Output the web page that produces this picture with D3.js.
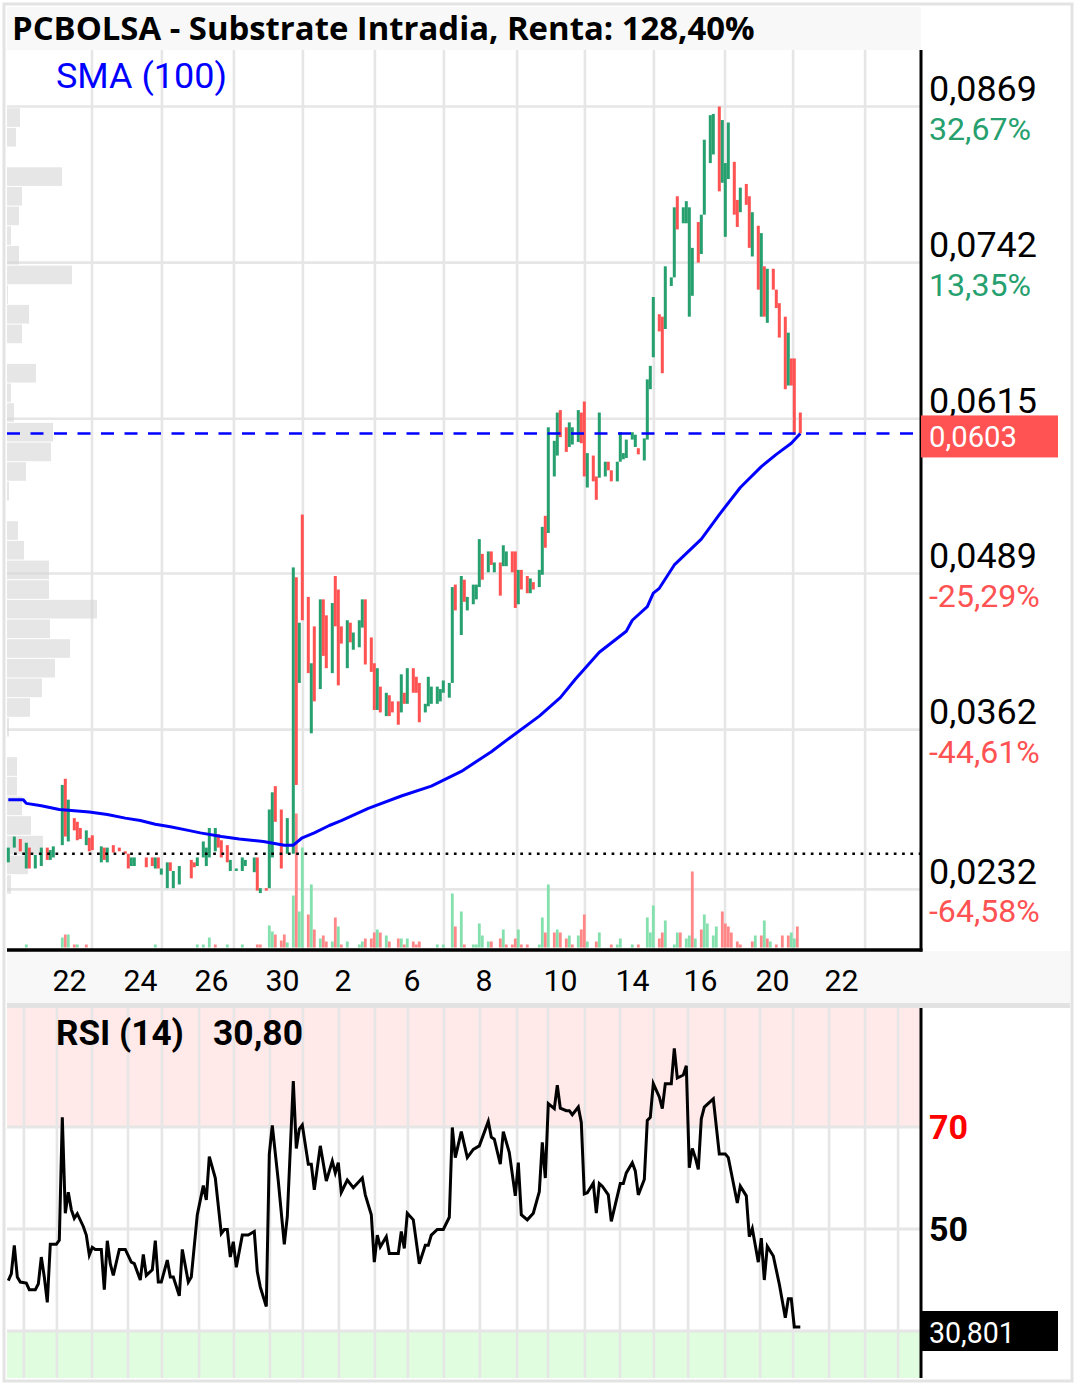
<!DOCTYPE html>
<html><head><meta charset="utf-8">
<script src="https://cdn.jsdelivr.net/npm/d3@7/dist/d3.min.js"></script>
<style>body{margin:0;background:#fff}svg{display:block}text{font-family:Roboto,"Noto Sans",sans-serif}</style>
</head><body><svg id="c" width="1076" height="1385"></svg>
<script>
// ---------------- DATA ----------------
const title = "PCBOLSA - Substrate Intradia, Renta: 128,40%";
const smaLabel = "SMA (100)";
const rsiLabel = "RSI (14)";
const rsiLast = "30,80";
const rsiBoxText = "30,801";
const lastPrice = 0.0603;
const refPrice = 0.0261;

const priceTicks = [0.0869, 0.0742, 0.0615, 0.0489, 0.0362, 0.0232];
const pctLabels = ["32,67%", "13,35%", "", "-25,29%", "-44,61%", "-64,58%"];
const rsiTicks = [70, 50, 30];

// trading-day starts, in bar units
const dayStarts = [5.2,16.2,27.9,39.9,51.2,63.6,75.2,87.2,98.2,110.2,122.2,133.2,145.2,157.2,169.6,179.9,192.2,203.9,215.2,226.6,238.9,250.6,261.6,273.6,285.6,296.6];
const majorDays = [27.9,51.2,75.2,98.2,122.2,145.2,169.6,192.2,215.2,238.9,261.6,285.6];
const labelDays = [16.2,39.9,63.6,87.2,110.2,133.2,157.2,179.9,203.9,226.6,250.6,273.6];
const dayLabels = ["22","24","26","30","2","6","8","10","14","16","20","22"];

const candleBar = [
0,2,4,6,7,9,11,13,14,15,
18,19,20,22,23,24,26,27,28,31,
32,33,35,37,39,40,41,42,46,48,
49,50,51,53,54,55,57,61,62,63,
65,66,67,69,70,71,73,74,76,78,
79,82,83,84,86,87,88,89,91,93,
95,96,97,98,100,101,102,104,105,106,
108,109,110,111,113,114,115,117,118,119,
121,122,123,124,126,127,128,130,131,132,
133,135,136,137,139,140,141,143,144,145,
147,148,149,151,152,153,155,156,157,158,
160,161,162,164,165,166,168,169,170,171,
173,174,175,177,178,179,180,182,183,184,
186,187,188,190,191,192,193,195,196,197,
199,200,201,203,204,205,206,208,209,210,
212,213,214,215,217,218,219,221,222,223,
225,226,227,228,230,231,232,234,235,237,
238,239,240,242,243,244,246,247,248,250,
251,252,253,255,256,257,259,260,261,262,264];
const candleOpen = [
.0254,.0266,.0273,.0249,.0266,.0249,.0251,.0266,.0256,.0258,
.0268,.0322,.0271,.0290,.0287,.0282,.0268,.0274,.0276,.0254,
.0266,.0254,.0268,.0266,.0263,.0261,.0251,.0251,.0258,.0258,
.0249,.0258,.0244,.0233,.0254,.0233,.0236,.0256,.0254,.0251,
.0258,.0251,.0258,.0263,.0277,.0272,.0268,.0247,.0247,.0247,
.0251,.0246,.0258,.0229,.0233,.0233,.0258,.0316,.0297,.0261,
.0261,.0486,.0400,.0537,.0470,.0359,.0446,.0395,.0468,.0455,
.0408,.0487,.0476,.0446,.0412,.0449,.0427,.0429,.0445,.0468,
.0437,.0416,.0378,.0397,.0373,.0390,.0385,.0385,.0376,.0392,
.0383,.0412,.0405,.0400,.0376,.0381,.0383,.0383,.0385,.0392,
.0388,.0400,.0480,.0439,.0484,.0459,.0464,.0468,.0478,.0505,
.0490,.0507,.0490,.0498,.0495,.0495,.0507,.0507,.0464,.0492,
.0487,.0473,.0482,.0478,.0488,.0536,.0522,.0568,.0585,.0622,
.0608,.0592,.0594,.0596,.0620,.0629,.0559,.0585,.0568,.0567,
.0568,.0580,.0573,.0564,.0580,.0582,.0583,.0598,.0592,.0591,
.0581,.0598,.0639,.0665,.0700,.0698,.0688,.0723,.0730,.0796,
.0774,.0774,.0698,.0715,.0775,.0749,.0781,.0823,.0830,.0869,
.0807,.0763,.0810,.0824,.0793,.0783,.0806,.0796,.0747,.0772,
.0698,.0739,.0693,.0737,.0720,.0709,.0698,.0642,.0664,.0664,.0620];
const candleClose = [
.0266,.0275,.0263,.0270,.0249,.0260,.0266,.0256,.0264,.0267,
.0317,.0275,.0305,.0280,.0272,.0273,.0280,.0263,.0264,.0267,
.0256,.0266,.0262,.0263,.0261,.0249,.0258,.0258,.0250,.0251,
.0258,.0249,.0249,.0254,.0247,.0247,.0251,.0241,.0250,.0258,
.0271,.0266,.0282,.0282,.0266,.0258,.0254,.0256,.0249,.0258,
.0256,.0258,.0231,.0233,.0231,.0297,.0311,.0287,.0249,.0290,
.0494,.0317,.0449,.0451,.0408,.0416,.0385,.0468,.0422,.0412,
.0465,.0446,.0398,.0432,.0451,.0433,.0441,.0451,.0468,.0415,
.0409,.0378,.0412,.0376,.0392,.0373,.0376,.0366,.0407,.0383,
.0412,.0392,.0392,.0368,.0383,.0405,.0397,.0397,.0395,.0402,
.0400,.0478,.0459,.0487,.0466,.0470,.0480,.0480,.0517,.0484,
.0507,.0496,.0498,.0471,.0512,.0507,.0490,.0461,.0492,.0476,
.0473,.0485,.0476,.0492,.0527,.0510,.0608,.0597,.0620,.0600,
.0588,.0612,.0608,.0622,.0595,.0568,.0587,.0564,.0549,.0620,
.0580,.0573,.0564,.0580,.0604,.0587,.0598,.0604,.0602,.0586,
.0599,.0647,.0658,.0714,.0686,.0652,.0739,.0730,.0787,.0769,
.0787,.0792,.0787,.0754,.0742,.0781,.0842,.0862,.0863,.0800,
.0858,.0823,.0856,.0781,.0771,.0803,.0789,.0754,.0783,.0720,
.0766,.0698,.0737,.0720,.0705,.0681,.0639,.0685,.0642,.0602,.0603];

// volume (thousand shares)
const volBar = [
6,18,19,20,22,23,26,49,63,65,
67,69,73,78,83,84,87,88,89,91,
92,93,95,96,97,98,100,101,102,104,
105,106,108,109,110,111,113,117,118,119,
121,122,123,124,126,127,130,131,132,133,
135,136,137,143,145,148,149,151,152,155,
156,157,158,160,161,164,165,166,168,169,
170,171,173,177,178,179,180,182,183,184,
186,187,188,190,191,192,193,196,197,201,
203,204,208,210,213,214,215,217,218,219,
222,223,224,226,227,228,229,231,232,233,
235,236,238,239,240,241,243,244,248,249,
251,252,253,254,256,258,260,261,262,263];
const volValue = [
15,50,65,65,15,15,15,15,15,15,
50,15,15,15,15,15,110,80,65,35,
65,25,260,670,180,500,165,315,90,45,
60,30,30,150,105,15,30,15,30,45,
45,75,90,75,60,30,45,45,15,45,
30,15,30,15,15,270,105,180,15,15,
15,120,60,30,30,45,90,15,15,45,
90,15,15,15,150,75,315,75,90,75,
45,60,15,60,90,165,30,30,75,15,
15,45,15,15,150,75,210,45,75,135,
15,75,75,45,60,380,45,90,165,120,
60,105,180,120,105,75,30,15,30,60,
60,135,45,30,15,60,60,75,45,105];
const volUp = [
1,1,0,1,0,1,0,1,1,1,
1,0,1,1,0,0,1,1,0,0,
0,1,1,0,1,1,0,1,0,1,
0,0,1,0,1,0,1,1,1,0,
0,0,1,0,1,0,0,1,0,1,
0,0,0,1,1,1,0,1,0,1,
1,1,1,1,0,0,1,0,0,0,
1,0,0,1,1,0,1,0,1,0,
0,1,0,1,0,0,1,0,1,0,
1,1,1,0,1,1,1,0,0,1,
1,1,0,1,1,0,1,0,1,1,
1,1,0,0,0,0,0,0,0,1,
0,1,0,1,0,0,0,1,1,0];

// SMA(100)
const smaBar = [0,5,6,11,17,27,33,39,44,49,54,60,64,71,77,85,92,95,98,102,107,111,120,131,141,151,161,167,177,184,189,197,206,208,213,215,217,222,231,237,244,251,256,261,264];
const smaVal = [.0305,.0305,.0302,.0300,.0297,.0295,.0293,.0290,.0288,.0285,.0283,.0280,.0278,.0275,.0273,.0271,.0268,.0268,.0274,.0278,.0284,.0288,.0298,.0308,.0316,.0328,.0344,.0355,.0373,.0388,.0403,.0425,.0442,.0451,.0462,.0473,.0477,.0496,.0517,.0537,.0559,.0576,.0586,.0595,.0603];

// volume-at-price profile (thousand shares), bins of 0.0016
const profTop = [.0868,.0852,.0836,.0820,.0804,.0788,.0772,.0756,.0740,.0724,.0708,.0692,.0676,.0660,.0644,.0628,.0612,.0596,.0580,.0564,.0548,.0532,.0516,.0500,.0484,.0468,.0452,.0436,.0420,.0404,.0388,.0372,.0356,.0340,.0324,.0308,.0292,.0276,.0260,.0244];
const profVol = [260,180,0,1100,300,240,80,240,1300,20,440,300,0,580,80,140,920,880,380,40,0,220,340,840,840,1800,860,1260,960,700,460,40,0,200,200,300,480,720,420,80];
const profBin = 0.0016;

// RSI(14)
const rsiBar = [
0,1,2,3,4,6,7,9,10,11,
12,13,14,16,17,18,19,20,21,22,
23,25,26,27,28,29,31,32,33,34,
35,37,39,41,42,44,45,46,48,49,
50,51,53,54,55,57,58,60,61,63,
65,66,67,69,71,72,73,74,75,76,
78,80,82,83,84,86,87,88,90,92,
93,95,96,97,98,100,101,102,104,106,
108,109,110,111,113,115,118,119,121,122,
123,124,126,127,130,131,132,133,135,137,
139,140,141,143,145,147,148,149,151,153,
155,157,160,161,162,164,165,167,169,170,
171,173,175,177,178,179,180,182,183,184,
186,187,188,190,191,192,193,195,196,197,
198,200,201,204,205,206,208,209,210,212,
213,214,215,217,218,219,221,222,223,225,
226,227,228,229,230,231,232,235,237,239,
240,243,244,246,247,248,250,251,252,253,
255,257,259,260,261,262,264];
const rsiVal = [
39.9,41.2,46.8,40.6,39.6,39.4,38.1,38.1,39.2,44.5,
40.6,35.6,47.0,47.0,47.8,71.9,53.1,57.2,53.8,52.1,
53.0,50.5,48.8,44.9,46.4,46.0,46.0,38.1,47.7,43.2,
40.9,46.0,46.0,43.5,43.2,40.0,45.0,40.9,42.0,47.7,
39.6,39.6,43.9,40.6,40.6,36.9,46.0,39.6,40.6,52.8,
58.5,55.7,64.2,60.0,49.1,49.9,49.9,44.5,47.5,42.5,
48.8,48.8,49.5,41.6,38.6,34.8,64.7,70.3,59.4,47.0,
52.4,79.0,65.8,69.6,70.4,62.7,62.7,57.7,66.3,59.4,
63.3,61.0,63.0,57.2,59.6,58.1,60.0,56.7,52.8,43.5,
48.8,46.5,48.5,45.2,45.2,49.5,46.2,53.1,51.8,43.2,
46.8,46.8,48.8,49.9,49.9,52.3,69.9,64.0,69.1,64.0,
65.6,66.3,71.1,68.0,67.6,62.7,69.1,65.0,56.5,63.0,
52.8,51.8,53.1,57.3,67.0,60.0,74.6,73.6,78.2,73.7,
73.2,73.2,72.4,73.9,70.9,56.9,57.1,59.0,53.1,58.9,
58.4,56.7,51.5,58.9,58.9,61.0,63.0,61.4,56.7,59.7,
71.3,71.9,78.5,75.9,73.6,78.5,78.5,85.4,79.6,80.2,
82.0,62.0,65.8,64.0,61.7,71.6,73.9,75.5,64.7,64.7,
64.0,55.1,58.4,56.5,48.5,50.1,43.5,48.2,40.0,46.6,
44.7,39.2,32.6,36.3,36.3,30.8,30.8];

// ---------------- LAYOUT ----------------
const L = {left: 7, right: 921, top: 50, bottom: 949, rsiTop: 1008, rsiBottom: 1378};
const UP = "#26a06e", DOWN = "#ff5252", VUP = "#84e0ad", VDOWN = "#ff8787", GRID = "#e6e6e6";

const svg = d3.select("#c");
const x = d3.scaleLinear().domain([0, 264]).range([8.3, 800.3]);
const y = d3.scaleLinear().domain([0.01835, 0.0915]).range([L.bottom, L.top]);
const vh = d3.scaleLinear().domain([0, 1000]).range([0, 200]);
const ph = d3.scaleLinear().domain([0, 1800]).range([0, 90]);
const yr = d3.scaleLinear().domain([30, 70]).range([1331, 1127]);
const loc = d3.formatLocale({decimal: ",", thousands: ".", grouping: [3], currency: ["", "€"]});
const fmt4 = loc.format(".4f");

function fit(sel, w) {
  const cw = sel.node().getComputedTextLength();
  sel.attr("font-size", parseFloat(sel.attr("font-size")) * w / cw);
}

// backgrounds
svg.append("rect").attr("x", 4).attr("y", 4).attr("width", 1068).attr("height", 1377)
  .attr("fill", "#fff").attr("stroke", "#e3e3e3").attr("stroke-width", 3);
svg.append("rect").attr("x", 7).attr("y", 7).attr("width", L.right - 7).attr("height", 43).attr("fill", "#f8f8f8");
svg.append("rect").attr("x", 7).attr("y", 951).attr("width", 1063).attr("height", 52).attr("fill", "#f8f8f8");
svg.append("rect").attr("x", 7).attr("y", 1003).attr("width", 1063).attr("height", 5).attr("fill", "#e2e2e2");

// main grid
const g = svg.append("g");
g.selectAll(".hg").data(priceTicks).join("line")
  .attr("x1", L.left).attr("x2", L.right).attr("y1", d => y(d)).attr("y2", d => y(d))
  .attr("stroke", GRID).attr("stroke-width", 2.6);
g.selectAll(".vg").data(majorDays).join("line")
  .attr("x1", d => x(d)).attr("x2", d => x(d)).attr("y1", L.top).attr("y2", L.bottom)
  .attr("stroke", GRID).attr("stroke-width", 2.6);

// profile
g.selectAll(".pf").data(profTop).join("rect")
  .attr("x", L.left).attr("y", d => y(d) + 0.5)
  .attr("width", (d, i) => ph(profVol[i]))
  .attr("height", d => y(d - profBin) - y(d) - 1)
  .attr("fill", "#d6d6d6").attr("opacity", 0.6);

// volume
g.selectAll(".vb").data(volBar).join("rect")
  .attr("x", d => x(d) - 1.4).attr("width", 2.8)
  .attr("y", (d, i) => 947.5 - vh(volValue[i])).attr("height", (d, i) => vh(volValue[i]))
  .attr("fill", (d, i) => volUp[i] ? VUP : VDOWN);

// candles
g.selectAll(".cd").data(candleBar).join("rect")
  .attr("x", d => x(d) - 1.5).attr("width", 3)
  .attr("y", (d, i) => y(Math.max(candleOpen[i], candleClose[i])))
  .attr("height", (d, i) => Math.max(1.5, Math.abs(y(candleOpen[i]) - y(candleClose[i]))))
  .attr("fill", (d, i) => candleClose[i] >= candleOpen[i] ? UP : DOWN);

// SMA
g.append("path").datum(smaBar)
  .attr("d", d3.line().x(d => x(d)).y((d, i) => y(smaVal[i])))
  .attr("fill", "none").attr("stroke", "#0000ff").attr("stroke-width", 3).attr("stroke-linejoin", "round");

// reference & last price lines
g.append("line").attr("x1", 14).attr("x2", L.right).attr("y1", y(refPrice)).attr("y2", y(refPrice))
  .attr("stroke", "#000").attr("stroke-width", 2.7).attr("stroke-dasharray", "2.7,5.6");
g.append("line").attr("x1", L.left).attr("x2", L.right).attr("y1", y(lastPrice)).attr("y2", y(lastPrice))
  .attr("stroke", "#0000ff").attr("stroke-width", 2.6).attr("stroke-dasharray", "13,10.5");

// axis frame lines
svg.append("line").attr("x1", L.right).attr("x2", L.right).attr("y1", L.top).attr("y2", 951.5)
  .attr("stroke", "#000").attr("stroke-width", 3);
svg.append("line").attr("x1", L.left).attr("x2", L.right + 1.5).attr("y1", 950).attr("y2", 950)
  .attr("stroke", "#000").attr("stroke-width", 3.5);

// right price axis
const ya = svg.append("g").attr("transform", `translate(${L.right},0)`)
  .call(d3.axisRight(y).tickValues(priceTicks).tickFormat(fmt4).tickSize(0).tickPadding(8));
ya.select(".domain").remove();
ya.selectAll("text").attr("dy", null).attr("y", -6).attr("font-size", 36).attr("fill", "#000")
  .style("font-family", "Roboto");
fit(ya.select(".tick text"), 108);
const fs1 = ya.select(".tick text").attr("font-size");
ya.selectAll("text").attr("font-size", fs1);

const pctG = svg.append("g");
const pt = pctG.selectAll("text").data(priceTicks).join("text")
  .attr("x", 929).attr("y", d => y(d) + 33)
  .attr("font-size", 32).attr("fill", (d, i) => pctLabels[i].startsWith("-") ? "#ff5252" : "#26a06e")
  .text((d, i) => pctLabels[i]);
fit(pt.filter((d, i) => i === 0), 102);
pt.attr("font-size", pt.filter((d, i) => i === 0).attr("font-size"));

// last price box
svg.append("rect").attr("x", L.right).attr("y", y(lastPrice) - 18).attr("width", 137).attr("height", 42).attr("fill", "#ff5252");
const lp = svg.append("text").attr("x", 929).attr("y", y(lastPrice) + 14).attr("fill", "#fff").attr("font-size", 29).text(fmt4(lastPrice));
fit(lp, 88);

// x axis labels
const xa = svg.append("g").attr("transform", "translate(0,951)")
  .call(d3.axisBottom(x).tickValues(labelDays).tickFormat((d, i) => dayLabels[i]).tickSize(0));
xa.select(".domain").remove();
xa.selectAll("text").attr("dy", null).attr("y", 40).attr("x", -5).attr("text-anchor", "start")
  .attr("font-size", 30).attr("fill", "#000").style("font-family", "Roboto");
fit(xa.select(".tick text"), 34);
xa.selectAll("text").attr("font-size", xa.select(".tick text").attr("font-size"));

// title & legend
const tt = svg.append("text").attr("x", 12).attr("y", 40).style("font-family", "'Open Sans', 'Noto Sans', sans-serif")
  .attr("font-weight", 700).attr("font-size", 30).attr("fill", "#000").text(title);
fit(tt, 743);
const sm = svg.append("text").attr("x", 56).attr("y", 88).attr("font-size", 35).attr("fill", "#0000ff").text(smaLabel);
fit(sm, 171);

// ---------------- RSI PANEL ----------------
const r = svg.append("g");
r.append("rect").attr("x", L.left).attr("y", L.rsiTop).attr("width", L.right - L.left).attr("height", yr(70) - L.rsiTop).attr("fill", "#ffe9e9");
r.append("rect").attr("x", L.left).attr("y", yr(30)).attr("width", L.right - L.left).attr("height", L.rsiBottom - yr(30)).attr("fill", "#e0fde0");
r.selectAll(".rv").data(dayStarts).join("line")
  .attr("x1", d => x(d)).attr("x2", d => x(d)).attr("y1", L.rsiTop).attr("y2", L.rsiBottom)
  .attr("stroke", GRID).attr("stroke-width", 2.6);
r.selectAll(".rh").data(rsiTicks).join("line")
  .attr("x1", L.left).attr("x2", L.right).attr("y1", d => yr(d)).attr("y2", d => yr(d))
  .attr("stroke", GRID).attr("stroke-width", 3);
r.append("path").datum(rsiBar)
  .attr("d", d3.line().x(d => x(d)).y((d, i) => yr(rsiVal[i])))
  .attr("fill", "none").attr("stroke", "#000").attr("stroke-width", 3).attr("stroke-linejoin", "miter");
r.append("line").attr("x1", L.right).attr("x2", L.right).attr("y1", L.rsiTop).attr("y2", L.rsiBottom)
  .attr("stroke", "#000").attr("stroke-width", 3);

const ra = svg.append("g").attr("transform", `translate(${L.right},0)`)
  .call(d3.axisRight(yr).tickValues([70, 50]).tickFormat(d3.format("d")).tickSize(0).tickPadding(8));
ra.select(".domain").remove();
ra.selectAll("text").attr("dy", null).attr("y", 11).attr("font-size", 34).attr("font-weight", 700)
  .style("font-family", "Roboto").attr("fill", d => d === 70 ? "#ff0000" : "#000");

svg.append("rect").attr("x", L.right).attr("y", 1311).attr("width", 137).attr("height", 40).attr("fill", "#000");
const rb = svg.append("text").attr("x", 929).attr("y", 1343).attr("fill", "#fff").attr("font-size", 29).text(rsiBoxText);
fit(rb, 86);

const rl = svg.append("text").attr("x", 56).attr("y", 1045).attr("font-size", 33).attr("font-weight", 700).attr("fill", "#000").text(rsiLabel);
fit(rl, 128);
const rv = svg.append("text").attr("x", 213).attr("y", 1045).attr("font-size", 33).attr("font-weight", 700).attr("fill", "#000").text(rsiLast);
fit(rv, 90);
</script>
</body></html>
